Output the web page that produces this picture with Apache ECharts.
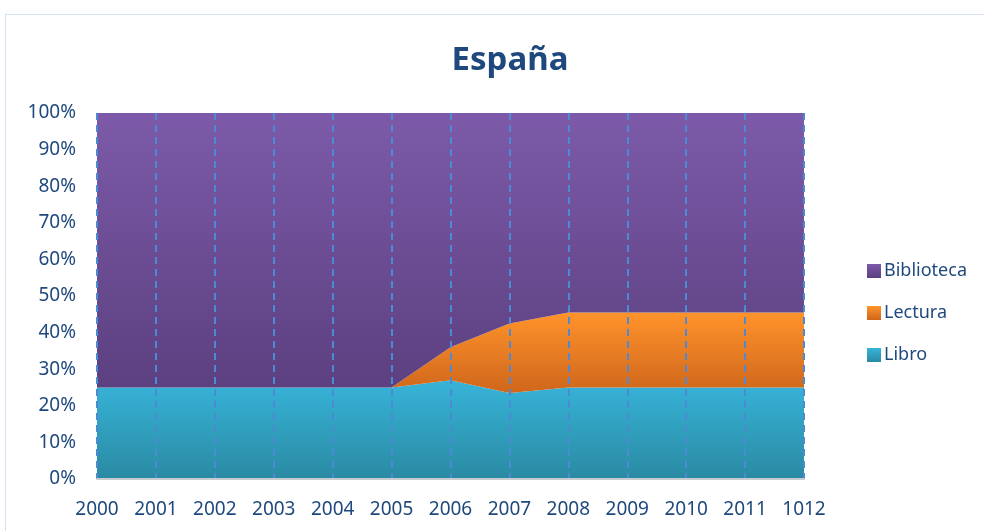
<!DOCTYPE html>
<html>
<head>
<meta charset="utf-8">
<script src="https://cdn.jsdelivr.net/npm/echarts@6/dist/echarts.min.js"></script>
<style>
html,body{margin:0;padding:0;background:#fff;}
#chart{width:984px;height:531px;}
</style>
</head>
<body>
<div id="chart"></div>
<script>
const categories = ['2000','2001','2002','2003','2004','2005','2006','2007','2008','2009','2010','2011','1012'];
const libro      = [25, 25, 25, 25, 25, 25, 27, 23.5, 25, 25, 25, 25, 25];
const lectura    = [0, 0, 0, 0, 0, 0, 9, 19, 20.5, 20.5, 20.5, 20.5, 20.5];
const biblioteca = [75, 75, 75, 75, 75, 75, 64, 57.5, 54.5, 54.5, 54.5, 54.5, 54.5];

const textColor = '#1F497D';
const font = 'Noto Sans';

function grad(top, bottom) {
  return new echarts.graphic.LinearGradient(0, 0, 0, 1, [
    {offset: 0, color: top}, {offset: 1, color: bottom}
  ]);
}
const cLibro = grad('#37B4D9', '#2A8AA3');
const cLectura = grad('#FF932B', '#CF661B');
const cBiblio = grad('#7C5AA9', '#5C4080');

const chart = echarts.init(document.getElementById('chart'));
chart.setOption({
  animation: false,
  backgroundColor: '#fff',
  title: {
    text: 'España',
    left: 505,
    textAlign: 'center',
    top: 39,
    textStyle: {fontFamily: font, fontWeight: 'bold', fontSize: 33, color: textColor}
  },
  graphic: [{
    type: 'rect',
    shape: {x: 5.5, y: 14.5, width: 1000, height: 600},
    style: {fill: 'none', stroke: '#D5E1F1', lineWidth: 1},
    silent: true, z: -10
  }],
  legend: {
    orient: 'vertical',
    left: 862,
    top: 257,
    itemGap: 24,
    itemWidth: 14,
    itemHeight: 14,
    icon: 'rect',
    textStyle: {fontFamily: font, fontSize: 18, color: textColor, padding: [0, 0, 0, -2]},
    data: ['Biblioteca', 'Lectura', 'Libro']
  },
  grid: {left: 97, right: 180, top: 113, bottom: 52},
  xAxis: {
    type: 'category',
    data: categories,
    boundaryGap: false,
    axisTick: {show: false},
    axisLine: {show: true, lineStyle: {color: '#C8CCD2', width: 2}},
    axisLabel: {fontFamily: font, fontSize: 19, color: textColor, margin: 21},
    splitLine: {show: true, lineStyle: {color: '#4E8AD4', width: 2, type: [7, 5]}},
    z: 5
  },
  yAxis: {
    type: 'value',
    min: 0, max: 100, interval: 10,
    axisLine: {show: false},
    axisTick: {show: false},
    splitLine: {show: false},
    axisLabel: {fontFamily: font, fontSize: 19, color: textColor, margin: 21, formatter: '{value}%'}
  },
  series: [
    {name: 'Libro', type: 'line', stack: 's', data: libro, symbol: 'none',
     lineStyle: {width: 0}, itemStyle: {color: cLibro}, areaStyle: {color: cLibro, opacity: 1}, z: 1},
    {name: 'Lectura', type: 'line', stack: 's', data: lectura, symbol: 'none',
     lineStyle: {width: 0}, itemStyle: {color: cLectura}, areaStyle: {color: cLectura, opacity: 1}, z: 1},
    {name: 'Biblioteca', type: 'line', stack: 's', data: biblioteca, symbol: 'none',
     lineStyle: {width: 0}, itemStyle: {color: cBiblio}, areaStyle: {color: cBiblio, opacity: 1}, z: 1}
  ]
});
</script>
</body>
</html>
